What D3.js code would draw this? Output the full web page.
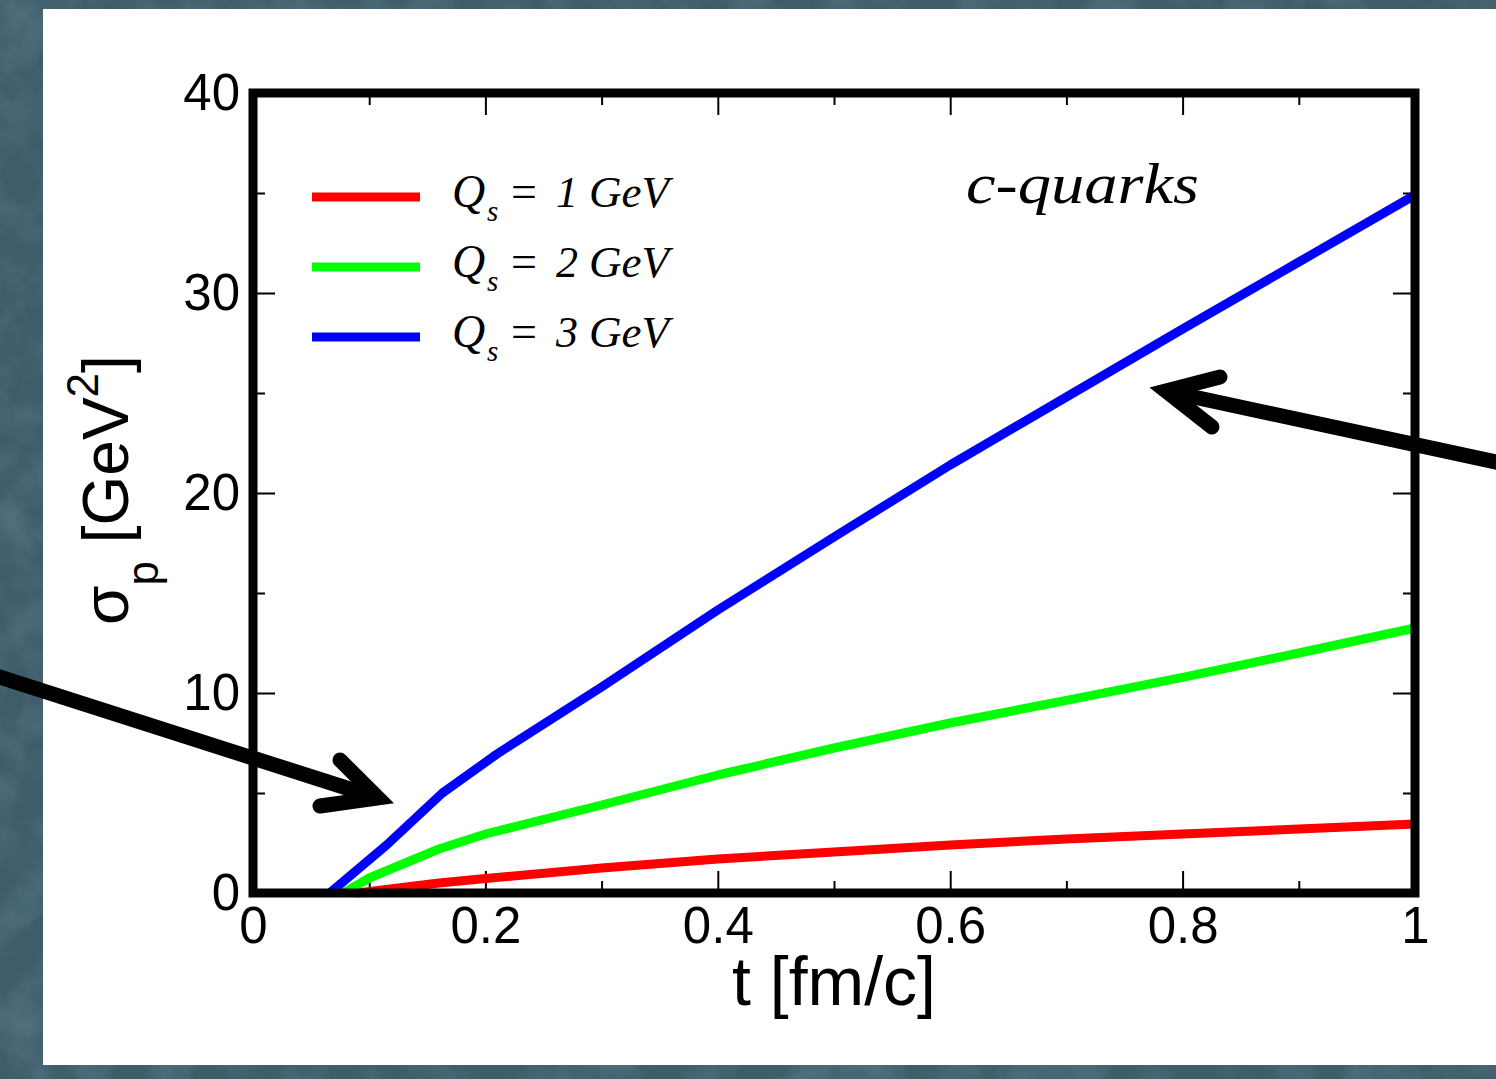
<!DOCTYPE html>
<html>
<head>
<meta charset="utf-8">
<script src="https://cdn.jsdelivr.net/npm/d3@7"></script>
<style>
  html, body { margin: 0; padding: 0; background: #3c5a66; }
  svg { display: block; }
</style>
</head>
<body>
<svg id="chart" width="1496" height="1079"></svg>
<script>
// ---------- data ----------
const seriesNames = ["Qs = 1 GeV", "Qs = 2 GeV", "Qs = 3 GeV"];
const seriesColors = ["#ff0000", "#00ff00", "#0000ff"];
const seriesSubValues = ["1", "2", "3"];

const tQs1 = [0.09, 0.16, 0.2, 0.3, 0.4, 0.5, 0.6, 0.7, 0.8, 0.9, 1.0];
const sigmaQs1 = [0, 0.5, 0.72, 1.25, 1.7, 2.05, 2.4, 2.7, 2.95, 3.2, 3.45];

const tQs2 = [0.078, 0.1, 0.16, 0.2, 0.3, 0.4, 0.5, 0.6, 0.7, 0.8, 0.9, 1.0];
const sigmaQs2 = [0, 0.75, 2.2, 2.95, 4.4, 5.9, 7.25, 8.5, 9.63, 10.78, 12.0, 13.25];

const tQs3 = [0.066, 0.115, 0.163, 0.21, 0.3, 0.4, 0.5, 0.6, 0.7, 0.8, 0.9, 1.0];
const sigmaQs3 = [0, 2.4, 5.0, 6.95, 10.3, 14.15, 17.8, 21.4, 24.8, 28.2, 31.55, 34.9];

const xMajorTicks = [0, 0.2, 0.4, 0.6, 0.8, 1];
const xTickLabels = ["0", "0.2", "0.4", "0.6", "0.8", "1"];
const xMinorTicks = [0.1, 0.3, 0.5, 0.7, 0.9];
const yMajorTicks = [0, 10, 20, 30, 40];
const yTickLabels = ["0", "10", "20", "30", "40"];
const yMinorTicks = [5, 15, 25, 35];

const xDomain = [0, 1];
const yDomain = [0, 40];

// ---------- layout ----------
const svg = d3.select("#chart");
const W = 1496, H = 1079;
const plotLeft = 253, plotRight = 1415, plotTop = 93, plotBottom = 893;

// background with subtle texture
const defs = svg.append("defs");
const filt = defs.append("filter").attr("id", "tex").attr("x", 0).attr("y", 0).attr("width", 1).attr("height", 1);
filt.append("feTurbulence").attr("type", "fractalNoise").attr("baseFrequency", "0.022").attr("numOctaves", 3).attr("seed", 4).attr("result", "n");
filt.append("feColorMatrix").attr("type", "matrix")
  .attr("values", "0 0 0 0 0.17  0 0 0 0 0.27  0 0 0 0 0.35  0 0 0 -1.6 1.0");
svg.append("rect").attr("width", W).attr("height", H).attr("fill", "#3e5d69");
svg.append("rect").attr("width", W).attr("height", H).attr("filter", "url(#tex)").attr("opacity", 0.45);

// white panel
svg.append("rect").attr("x", 43).attr("y", 9).attr("width", W - 43).attr("height", 1065 - 9).attr("fill", "#ffffff");

const x = d3.scaleLinear().domain(xDomain).range([plotLeft, plotRight]);
const y = d3.scaleLinear().domain(yDomain).range([plotBottom, plotTop]);

const tickFont = "'Liberation Sans', Arial, Helvetica, sans-serif";

// ---------- axes ----------
function styleAxis(g) {
  g.select(".domain").remove();
  g.selectAll(".tick line").attr("stroke", "#000").attr("stroke-width", 2);
  g.selectAll(".tick text").attr("fill", "#000").attr("font-family", tickFont).attr("font-size", 51);
}
// bottom
svg.append("g").attr("transform", `translate(0,${plotBottom})`)
  .call(d3.axisBottom(x).tickValues(xMajorTicks).tickFormat((d, i) => xTickLabels[i]).tickSizeInner(-22).tickSizeOuter(0).tickPadding(14))
  .call(styleAxis);
svg.append("g").attr("transform", `translate(0,${plotBottom})`)
  .call(d3.axisBottom(x).tickValues(xMinorTicks).tickFormat("").tickSizeInner(-12).tickSizeOuter(0))
  .call(styleAxis);
// top
svg.append("g").attr("transform", `translate(0,${plotTop})`)
  .call(d3.axisTop(x).tickValues(xMajorTicks).tickFormat("").tickSizeInner(-22).tickSizeOuter(0))
  .call(styleAxis);
svg.append("g").attr("transform", `translate(0,${plotTop})`)
  .call(d3.axisTop(x).tickValues(xMinorTicks).tickFormat("").tickSizeInner(-12).tickSizeOuter(0))
  .call(styleAxis);
// left
svg.append("g").attr("transform", `translate(${plotLeft},0)`)
  .call(d3.axisLeft(y).tickValues(yMajorTicks).tickFormat((d, i) => yTickLabels[i]).tickSizeInner(-22).tickSizeOuter(0).tickPadding(13))
  .call(styleAxis);
svg.append("g").attr("transform", `translate(${plotLeft},0)`)
  .call(d3.axisLeft(y).tickValues(yMinorTicks).tickFormat("").tickSizeInner(-12).tickSizeOuter(0))
  .call(styleAxis);
// right
svg.append("g").attr("transform", `translate(${plotRight},0)`)
  .call(d3.axisRight(y).tickValues(yMajorTicks).tickFormat("").tickSizeInner(-22).tickSizeOuter(0))
  .call(styleAxis);
svg.append("g").attr("transform", `translate(${plotRight},0)`)
  .call(d3.axisRight(y).tickValues(yMinorTicks).tickFormat("").tickSizeInner(-12).tickSizeOuter(0))
  .call(styleAxis);

// ---------- curves ----------
const series = [
  { t: tQs1, v: sigmaQs1 },
  { t: tQs2, v: sigmaQs2 },
  { t: tQs3, v: sigmaQs3 }
];
const line = d3.line().x(d => x(d[0])).y(d => y(d[1]));
series.forEach((s, i) => {
  const pts = s.t.map((t, j) => [t, s.v[j]]);
  svg.append("path").datum(pts)
    .attr("d", line)
    .attr("fill", "none")
    .attr("stroke", seriesColors[i])
    .attr("stroke-width", 9)
    .attr("stroke-linejoin", "round");
});

// frame
svg.append("rect")
  .attr("x", x(xDomain[0])).attr("y", y(yDomain[1]))
  .attr("width", x(xDomain[1]) - x(xDomain[0]))
  .attr("height", y(yDomain[0]) - y(yDomain[1]))
  .attr("fill", "none").attr("stroke", "#000").attr("stroke-width", 9);

// ---------- legend ----------
const serif = "'Liberation Serif', 'Times New Roman', Times, serif";
const legendRows = [197, 267, 337];
seriesNames.forEach((name, i) => {
  const ly = legendRows[i];
  svg.append("line").attr("x1", 312).attr("x2", 420).attr("y1", ly).attr("y2", ly)
    .attr("stroke", seriesColors[i]).attr("stroke-width", 9);
  const g = svg.append("g").attr("font-family", serif).attr("font-style", "italic").attr("fill", "#000");
  g.append("text").attr("x", 452).attr("y", ly + 10).attr("font-size", 46).text("Q");
  g.append("text").attr("x", 487).attr("y", ly + 24).attr("font-size", 29).text("s");
  g.append("text").attr("x", 511).attr("y", ly + 10).attr("font-size", 46).attr("font-style", "normal").text("=");
  g.append("text").attr("x", 556).attr("y", ly + 10).attr("font-size", 44).text(seriesSubValues[i]);
  g.append("text").attr("x", 589).attr("y", ly + 10).attr("font-size", 44)
    .attr("textLength", 80).attr("lengthAdjust", "spacingAndGlyphs").text("GeV");
});

// annotation
svg.append("text")
  .attr("x", 966).attr("y", 203)
  .attr("font-family", serif).attr("font-style", "italic").attr("font-size", 57)
  .attr("textLength", 233).attr("lengthAdjust", "spacingAndGlyphs")
  .attr("fill", "#000").text("c-quarks");

// ---------- axis titles ----------
svg.append("text")
  .attr("x", (plotLeft + plotRight) / 2).attr("y", 1005)
  .attr("text-anchor", "middle")
  .attr("font-family", tickFont).attr("font-size", 68).attr("fill", "#000")
  .text("t [fm/c]");

const yt = svg.append("text")
  .attr("transform", "translate(128,625) rotate(-90)")
  .attr("font-family", tickFont).attr("font-size", 64).attr("fill", "#000");
yt.append("tspan").text("σ");
yt.append("tspan").attr("font-size", 44).attr("dy", 30).text("p");
yt.append("tspan").attr("dy", -30).text(" [GeV");
yt.append("tspan").attr("font-size", 44).attr("dy", -30).text("2");
yt.append("tspan").attr("dy", 30).text("]");

// ---------- arrows ----------
function arrow(shaftStart, tip, barbA, barbB) {
  svg.append("path")
    .attr("d", d3.line()([shaftStart, tip]))
    .attr("fill", "none").attr("stroke", "#000").attr("stroke-width", 15).attr("stroke-linecap", "butt");
  svg.append("path")
    .attr("d", d3.line()([barbA, tip, barbB]))
    .attr("fill", "none").attr("stroke", "#000").attr("stroke-width", 15)
    .attr("stroke-linecap", "round").attr("stroke-linejoin", "miter").attr("stroke-miterlimit", 10);
}
arrow([-10, 674], [378, 798], [340, 760], [320, 806]);
arrow([1510, 465], [1166, 391], [1220, 377], [1212, 427]);
</script>
</body>
</html>
